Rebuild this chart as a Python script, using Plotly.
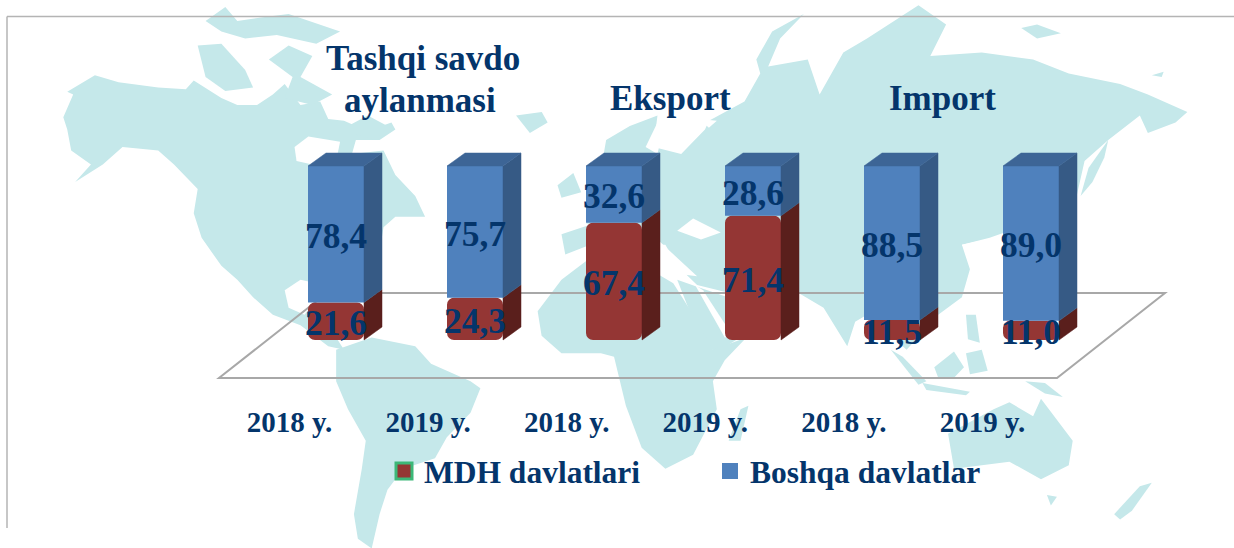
import plotly.graph_objects as go

# ---- data ----
year_labels = ["2018 y.", "2019 y.", "2018 y.", "2019 y.", "2018 y.", "2019 y."]
positions = [0, 1, 2, 3, 4, 5]
mdh_values = [21.6, 24.3, 67.4, 71.4, 11.5, 11.0]
other_values = [78.4, 75.7, 32.6, 28.6, 88.5, 89.0]
mdh_labels = ["21,6", "24,3", "67,4", "71,4", "11,5", "11,0"]
other_labels = ["78,4", "75,7", "32,6", "28,6", "88,5", "89,0"]
series_names = ["MDH davlatlari", "Boshqa davlatlar"]
group_titles = ["Tashqi savdo", "aylanmasi", "Eksport", "Import"]

# ---- style ----
W, H = 1234, 548
PLOT_BOTTOM = 400
X0_PX, X_STEP = 336.0, 139.0      # centre of first bar, bar spacing
Y0_PX, Y_STEP = 340.0, 1.74       # baseline, px per percent
BAR_W = 56 / X_STEP
DX, DY = 18 / X_STEP, 13 / Y_STEP  # depth offset of the 3-D look
LABEL_SHIFT = 5 / Y_STEP
NAVY = "#04356b"
FONT = "Liberation Serif"
RED, RED_SIDE = "#943634", "#5a1f1c"
BLUE, BLUE_SIDE, BLUE_TOP = "#4f81bd", "#365a85", "#3d6596"
MAP = "#c5e8ea"
FLOOR = "#a8a8a8"


def px_x(p):
    return (p - X0_PX) / X_STEP


def px_y(p):
    return (Y0_PX - p) / Y_STEP


def paper(p):
    return p[0] / W, (PLOT_BOTTOM - p[1]) / PLOT_BOTTOM


def z3(pts):
    return [(x / 2.529, y / 2.859) for x, y in pts]


def z4(pts):
    return [(614 + x / 2.529, y / 2.859) for x, y in pts]


def path(pts):
    c = [paper(p) for p in pts]
    return "M " + " L ".join(f"{x:.4f} {y:.4f}" for x, y in c) + " Z"


# decorative world map backdrop, hand-traced
land = [
    # North America
    z3([(160,335),(185,270),(170,262),(240,215),(300,235),(400,250),(470,255),(490,230),(560,280),(600,300),(650,300),(690,270),(720,240),(760,300),(810,290),(830,340),(870,345),(900,360),(940,370),(990,350),(1000,370),(960,400),(900,400),(890,440),(970,430),(1000,500),(1050,560),(1075,620),(1000,620),(970,650),(960,720),(930,790),(900,810),(860,860),(800,830),(780,900),(810,940),(850,965),(870,1000),(830,990),(760,930),(690,900),(640,850),(600,800),(560,760),(510,680),(490,610),(500,540),(440,470),(400,430),(310,420),(260,470),(190,520),(230,470),(180,430),(170,370)]),
    # Canadian arctic
    z3([(500,130),(560,125),(620,200),(640,250),(570,260),(520,220)]),
    z3([(680,170),(730,130),(790,160),(760,220),(840,270),(790,300),(720,280),(740,220)]),
    z3([(520,60),(570,20),(600,60),(660,50),(730,40),(860,90),(800,125),(700,100),(620,110),(560,90)]),
    z3([(880,360),(930,330),(980,360),(950,400),(900,385)]),
    # Iceland
    z3([(1305,330),(1370,320),(1385,350),(1340,380)]),
    # South America
    z3([(850,1000),(940,965),(1050,990),(1090,1040),(1190,1090),(1215,1110),(1190,1180),(1130,1250),(1100,1310),(1020,1340),(980,1400),(960,1470),(940,1568),(905,1540),(895,1470),(915,1340),(925,1260),(880,1170),(850,1090)]),
    # Britain, Iberia & west Europe
    z3([(1410,530),(1450,495),(1470,550),(1420,565)]),
    z3([(1420,670),(1500,640),(1540,660),(1500,720),(1430,730)]),
    # Eurasia
    z4([(-70,640),(-40,530),(-20,400),(40,360),(110,330),(100,420),(170,440),(230,370),(240,345),(330,290),(370,210),(360,170),(400,90),(480,40),(420,110),(390,190),(490,170),(520,270),(580,150),(640,110),(770,15),(840,70),(800,160),(930,150),(1060,170),(1150,210),(1280,240),(1350,270),(1450,320),(1420,350),(1350,380),(1330,330),(1250,400),(1190,460),(1170,560),(1120,600),(1050,640),(950,680),(880,700),(900,770),(880,850),(820,900),(780,950),(740,1000),(700,960),(640,900),(610,920),(590,990),(530,880),(470,840),(400,860),(340,860),(300,840),(210,815),(160,760),(130,700),(60,700),(0,640)]),
    # Arabia
    z4([(160,800),(210,820),(340,870),(340,950),(255,1010),(205,930)]),
    # Africa
    z4([(-193,890),(-133,800),(-63,740),(60,750),(150,810),(200,900),(250,1000),(335,965),(280,1030),(250,1090),(260,1170),(200,1300),(130,1340),(70,1280),(30,1160),(0,1020),(-33,1010),(-133,1010),(-183,960)]),
    # Madagascar
    z4([(290,1260),(320,1170),(340,1160),(320,1260)]),
    # Japan / Sakhalin
    z4([(1180,560),(1200,480),(1250,400),(1240,450),(1210,520)]),
    # New Siberian islands etc
    z4([(1030,80),(1070,70),(1130,95),(1070,110)]),
    z4([(1360,215),(1390,205),(1385,220)]),
    # Southeast Asia islands
    z4([(700,1000),(730,1020),(790,1090),(770,1100)]),
    z4([(780,1095),(900,1120),(890,1130),(790,1115)]),
    z4([(810,1050),(860,1005),(885,1050),(860,1080),(820,1080)]),
    z4([(890,1010),(930,1000),(945,1060),(900,1070)]),
    z4([(890,900),(915,900),(925,980),(895,970)]),
    z4([(1040,1090),(1090,1095),(1135,1135),(1090,1125)]),
    # Australia
    z4([(845,1240),(960,1170),(1000,1150),(1060,1190),(1080,1140),(1160,1260),(1150,1330),(1080,1370),(1000,1320),(930,1330),(860,1340)]),
    # Tasmania, New Zealand
    z4([(1095,1415),(1120,1420),(1105,1445)]),
    z4([(1265,1470),(1330,1390),(1360,1380),(1310,1460),(1280,1485)]),
]
seas = [
    # Hudson Bay
    z3([(745,420),(780,390),(860,405),(850,460),(790,470),(750,460)]),
    # Gulf of Mexico
    z3([(720,830),(760,800),(800,810),(800,860),(770,900),(730,880)]),
    # Gulf of California
    z3([(430,470),(445,500),(460,560),(440,510)]),
    # Baltic
    z4([(80,420),(110,350),(140,335),(120,390),(110,440)]),
    # Black Sea
    z4([(160,660),(200,625),(270,665),(220,685)]),
    # Mediterranean
    z4([(-140,735),(-60,700),(115,690),(210,790),(140,780),(60,760),(-60,730)]),
    # Red Sea
    z4([(205,815),(225,830),(300,960),(280,965)]),
    # White Sea
    z4([(215,340),(260,345),(240,365)]),
    # Bohai
    z4([(880,700),(920,690),(940,730),(900,730)]),
]

shapes = []
for poly in land:
    shapes.append(dict(type="path", xref="paper", yref="paper", layer="below",
                       path=path(poly), fillcolor=MAP, line=dict(width=0)))
for poly in seas:
    shapes.append(dict(type="path", xref="paper", yref="paper", layer="below",
                       path=path(poly), fillcolor="white", line=dict(width=0)))
# outer frame
for a, b in [((7, 16.5), (W, 16.5)), ((7, 16.5), (7, 528))]:
    xa, ya = paper(a)
    xb, yb = paper(b)
    shapes.append(dict(type="line", xref="paper", yref="paper", layer="below",
                       x0=xa, y0=ya, x1=xb, y1=yb, line=dict(color="#b4b4b4", width=1.5)))

# floor of the 3-D chart (below the bars)
floor_pts = [(219, 378), (1057, 378), (1165, 293), (327, 293)]
shapes.append(dict(type="path", xref="x", yref="y", layer="below",
                   path="M " + " L ".join(f"{px_x(a):.4f} {px_y(b):.4f}" for a, b in floor_pts) + " Z",
                   line=dict(color=FLOOR, width=2), fillcolor="rgba(0,0,0,0)"))

fig = go.Figure()


def face(xs, ys, color):
    fig.add_trace(go.Scatter(x=xs, y=ys, mode="lines", fill="toself", fillcolor=color,
                             line=dict(color=color, width=0.5), hoverinfo="skip", showlegend=False))


for pos, m, o in zip(positions, mdh_values, other_values):
    r = pos + BAR_W / 2
    l = pos - BAR_W / 2
    face([r, r + DX, r + DX, r, r], [0, DY, m + DY, m, 0], RED_SIDE)
    face([r, r + DX, r + DX, r, r], [m, m + DY, m + o + DY, m + o, m], BLUE_SIDE)
    face([l, r, r + DX, l + DX, l], [m + o, m + o, m + o + DY, m + o + DY, m + o], BLUE_TOP)

fig.add_trace(go.Bar(x=positions, y=[-v for v in mdh_values], base=mdh_values, width=BAR_W,
                     marker=dict(color=RED, cornerradius=7, line=dict(width=0)),
                     name=series_names[0], hoverinfo="skip", showlegend=False))
fig.add_trace(go.Bar(x=positions, y=other_values, base=mdh_values, width=BAR_W,
                     marker=dict(color=BLUE, line=dict(width=0)),
                     name=series_names[1], hoverinfo="skip", showlegend=False))

# value labels
label_font = dict(family=FONT, size=35.5, color=NAVY, weight="bold")
fig.add_trace(go.Scatter(x=positions, y=[v / 2 - LABEL_SHIFT for v in mdh_values], text=mdh_labels,
                         mode="text", textfont=label_font, textposition="middle center",
                         hoverinfo="skip", showlegend=False))
fig.add_trace(go.Scatter(x=positions, y=[m + o / 2 - LABEL_SHIFT for m, o in zip(mdh_values, other_values)],
                         text=other_labels, mode="text", textfont=label_font,
                         textposition="middle center", hoverinfo="skip", showlegend=False))

# legend entries
fig.add_trace(go.Scatter(x=[None], y=[None], mode="markers", name=series_names[0],
                         marker=dict(symbol="square", size=16, color=RED,
                                     line=dict(color="#3cb878", width=3))))
fig.add_trace(go.Scatter(x=[None], y=[None], mode="markers", name=series_names[1],
                         marker=dict(symbol="square", size=17, color=BLUE, line=dict(width=0))))

annots = []
for text, cx, cy in zip(group_titles, (423, 420, 670, 942), (58, 100, 98, 98)):
    xp, yp = paper((cx, cy))
    annots.append(dict(text=text, xref="paper", yref="paper", x=xp, y=yp, showarrow=False,
                       xanchor="center", yanchor="middle", align="center",
                       font=dict(family=FONT, size=35, color=NAVY, weight="bold")))

fig.update_layout(
    width=W, height=H, margin=dict(l=0, r=0, t=0, b=H - PLOT_BOTTOM),
    paper_bgcolor="white", plot_bgcolor="rgba(0,0,0,0)",
    barmode="overlay", shapes=shapes, annotations=annots,
    xaxis=dict(range=[px_x(0), px_x(W)], showgrid=False, zeroline=False, showline=False,
               tickmode="array", tickvals=[p * 138.6 / X_STEP - 46.5 / X_STEP for p in positions],
               ticktext=year_labels, ticks="", tickangle=0, ticklabelstandoff=2,
               tickfont=dict(family=FONT, size=29, color=NAVY, weight="bold")),
    yaxis=dict(range=[px_y(PLOT_BOTTOM), px_y(0)], visible=False, showgrid=False, zeroline=False),
    legend=dict(orientation="h", x=384 / W, xanchor="left", y=(PLOT_BOTTOM - 444) / PLOT_BOTTOM,
                yanchor="top", bgcolor="rgba(0,0,0,0)", entrywidth=281, entrywidthmode="pixels",
                font=dict(family=FONT, size=31.5, color=NAVY, weight="bold"), itemclick=False, itemdoubleclick=False),
)

fig.write_html("out.html", post_script="document.body.style.margin='0';",
               config=dict(displayModeBar=False))
